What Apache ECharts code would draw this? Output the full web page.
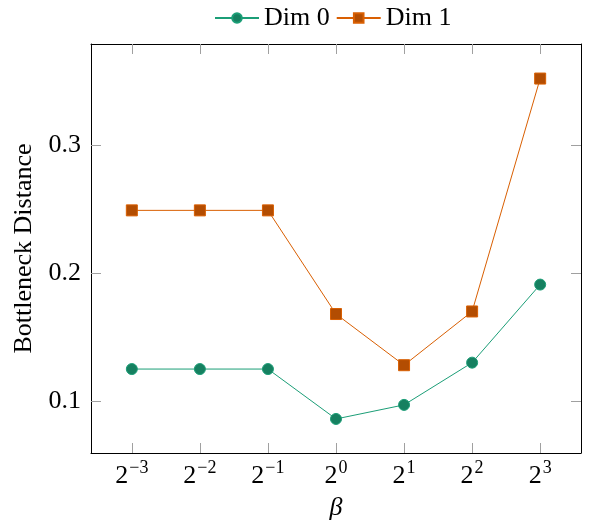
<!DOCTYPE html>
<html>
<head>
<meta charset="utf-8">
<script src="https://cdn.jsdelivr.net/npm/echarts@6/dist/echarts.min.js"></script>
<style>
  html, body { margin: 0; padding: 0; background: #fff; }
  #chart { width: 595px; height: 525px; }
</style>
</head>
<body>
<div id="chart"></div>
<script>
// beta exponents (2^k) on the x axis
const betaExponents = [-3, -2, -1, 0, 1, 2, 3];
const dim0 = [0.125, 0.125, 0.125, 0.086, 0.097, 0.130, 0.191];
const dim1 = [0.249, 0.249, 0.249, 0.168, 0.128, 0.170, 0.352];
const yTicks = [0.1, 0.2, 0.3];

const FONT = '"Liberation Serif", "Times New Roman", serif';
const idx = betaExponents.map((_, i) => i);
const pairs = arr => arr.map((v, i) => [i, v]);

const xRange = { min: -0.6, max: 6.6 };
const yRange = { min: 0.0594, max: 0.379 };

const tickStyle = { show: true, inside: true, length: 10, lineStyle: { color: '#a0a0a0', width: 1 } };
const lineAxis = { show: true, onZero: false, lineStyle: { color: '#000', width: 1 } };

const chart = echarts.init(document.getElementById('chart'), null, { renderer: 'canvas' });
chart.setOption({
  animation: false,
  backgroundColor: '#fff',
  textStyle: { fontFamily: FONT },
  legend: {
    top: 0,
    left: 209,
    itemWidth: 44,
    itemHeight: 12,
    itemGap: 6,
    textStyle: { fontFamily: FONT, fontSize: 26, color: '#000' },
    data: ['Dim 0', 'Dim 1']
  },
  grid: { left: 91, right: 14, top: 44, bottom: 72, containLabel: false, outerBoundsMode: 'none' },
  xAxis: [
    {
      type: 'value', ...xRange, position: 'bottom',
      axisLine: lineAxis,
      axisTick: { ...tickStyle, customValues: idx },
      splitLine: { show: false },
      axisLabel: {
        customValues: idx,
        margin: 6,
        formatter: v => '{b|2}{s|' + String(betaExponents[Math.round(v)]).replace('-', '\u2212') + '}',
        rich: {
          b: { fontFamily: FONT, fontSize: 26, color: '#000', verticalAlign: 'bottom', lineHeight: 30 },
          s: { fontFamily: FONT, fontSize: 18, color: '#000', verticalAlign: 'bottom', lineHeight: 30, padding: [0, 0, 12, 1] }
        }
      },
      name: 'β',
      nameLocation: 'middle',
      nameGap: 42,
      nameTextStyle: { fontFamily: FONT, fontSize: 26, fontStyle: 'italic', color: '#000' }
    },
    {
      type: 'value', ...xRange, position: 'top',
      axisLine: lineAxis,
      axisTick: { ...tickStyle, customValues: idx },
      axisLabel: { show: false },
      splitLine: { show: false }
    }
  ],
  yAxis: [
    {
      type: 'value', ...yRange, position: 'left',
      axisLine: lineAxis,
      axisTick: { ...tickStyle, customValues: yTicks },
      splitLine: { show: false },
      axisLabel: {
        customValues: yTicks,
        margin: 10,
        fontFamily: FONT, fontSize: 26, color: '#000',
        formatter: v => v.toFixed(1)
      },
      name: 'Bottleneck Distance',
      nameLocation: 'middle',
      nameRotate: 90,
      nameGap: 52,
      nameTextStyle: { fontFamily: FONT, fontSize: 26, color: '#000' }
    },
    {
      type: 'value', ...yRange, position: 'right',
      axisLine: lineAxis,
      axisTick: { ...tickStyle, customValues: yTicks },
      axisLabel: { show: false },
      splitLine: { show: false }
    }
  ],
  series: [
    {
      name: 'Dim 0', type: 'line', data: pairs(dim0),
      symbol: 'circle', symbolSize: 11,
      lineStyle: { color: '#1b9e77', width: 1 },
      itemStyle: { color: '#168060', borderColor: '#1b9e77', borderWidth: 1 }
    },
    {
      name: 'Dim 1', type: 'line', data: pairs(dim1),
      symbol: 'rect', symbolSize: 11,
      lineStyle: { color: '#d95f02', width: 1 },
      itemStyle: { color: '#b34d02', borderColor: '#d95f02', borderWidth: 1 }
    }
  ]
});
</script>
</body>
</html>
